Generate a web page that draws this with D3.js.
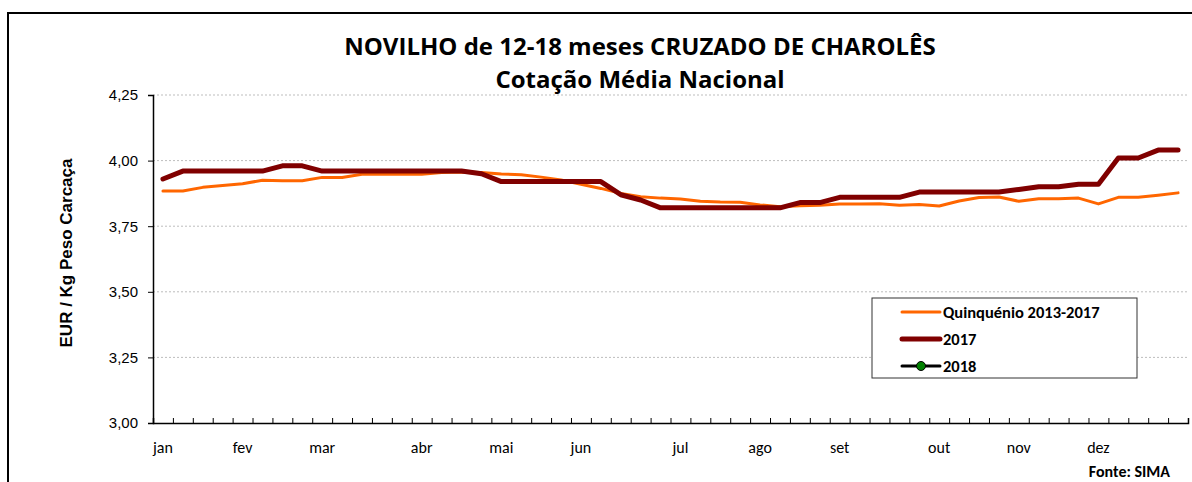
<!DOCTYPE html>
<html>
<head>
<meta charset="utf-8">
<script src="https://cdn.jsdelivr.net/npm/d3@7"></script>
<style>
  body { margin: 0; background: #fff; }
  svg { display: block; }
</style>
</head>
<body>
<svg width="1192" height="482"></svg>
<script>
// chart data, one value per week
const months = ["jan", "fev", "mar", "abr", "mai", "jun", "jul", "ago", "set", "out", "nov", "dez"];
const monthStartWeek = [0, 4, 8, 13, 17, 21, 26, 30, 34, 39, 43, 47];
const yTicks = [3.00, 3.25, 3.50, 3.75, 4.00, 4.25];

const quinquenio = [3.884, 3.884, 3.898, 3.905, 3.912, 3.925, 3.923, 3.923, 3.936, 3.936,
  3.948, 3.948, 3.948, 3.948, 3.955, 3.957, 3.955, 3.949, 3.946, 3.937,
  3.926, 3.910, 3.894, 3.875, 3.862, 3.857, 3.854, 3.845, 3.842, 3.841,
  3.831, 3.824, 3.828, 3.830, 3.835, 3.835, 3.836, 3.830, 3.833, 3.827,
  3.846, 3.859, 3.861, 3.845, 3.855, 3.855, 3.857, 3.835, 3.860, 3.860,
  3.868, 3.877];
const y2017 = [3.93, 3.96, 3.96, 3.96, 3.96, 3.96, 3.98, 3.98, 3.96, 3.96,
  3.96, 3.96, 3.96, 3.96, 3.96, 3.96, 3.95, 3.92, 3.92, 3.92,
  3.92, 3.92, 3.92, 3.87, 3.85, 3.82, 3.82, 3.82, 3.82, 3.82,
  3.82, 3.82, 3.84, 3.84, 3.86, 3.86, 3.86, 3.86, 3.88, 3.88,
  3.88, 3.88, 3.88, 3.89, 3.90, 3.90, 3.91, 3.91, 4.01, 4.01,
  4.04, 4.04];
const y2018 = []; // no values yet

const legendItems = ["Quinquénio 2013-2017", "2017", "2018"];

const svg = d3.select("svg");
const sansCal = "Carlito, Lato, 'Open Sans', sans-serif";
const sansArial = "'Liberation Sans', Arial, sans-serif";

// plot box
const plot = { left: 153, right: 1188, top: 95, bottom: 423 };
const nWeeks = y2017.length;

const x = d3.scaleBand().domain(d3.range(nWeeks)).range([plot.left, plot.right]);
const xEdge = d3.scaleLinear().domain([0, nWeeks]).range([plot.left, plot.right]);
const y = d3.scaleLinear().domain([3, 4.25]).range([plot.bottom, plot.top]);
const cx = i => x(i) + x.bandwidth() / 2;

// outer frame
svg.append("rect")
  .attr("x", 8).attr("y", 13).attr("width", 1200).attr("height", 500)
  .attr("fill", "none").attr("stroke", "#000").attr("stroke-width", 2);

// title
const titleFont = "'Open Sans', Lato, sans-serif";
svg.append("text").attr("x", 640).attr("y", 55).attr("text-anchor", "middle")
  .attr("font-family", titleFont).attr("font-weight", "bold").attr("font-size", "24px")
  .text("NOVILHO de 12-18 meses CRUZADO DE CHAROLÊS");
svg.append("text").attr("x", 640).attr("y", 88).attr("text-anchor", "middle")
  .attr("font-family", titleFont).attr("font-weight", "bold").attr("font-size", "24px")
  .text("Cotação Média Nacional");

// gridlines
svg.append("g").selectAll("line")
  .data(yTicks.filter(d => d > 3)).enter().append("line")
  .attr("x1", plot.left).attr("x2", plot.right)
  .attr("y1", d => y(d)).attr("y2", d => y(d))
  .attr("stroke", "#bdbdbd").attr("stroke-width", 1).attr("stroke-dasharray", "2,2");

// y axis
const yAxis = svg.append("g").attr("transform", `translate(${plot.left},0)`)
  .call(d3.axisLeft(y).tickValues(yTicks).tickSize(5).tickPadding(10)
    .tickFormat(d => d3.format(".2f")(d).replace(".", ",")));
yAxis.select(".domain").attr("stroke", "#000").attr("stroke-width", 1.5);
yAxis.selectAll("text").attr("font-family", sansArial).attr("font-size", "15px").attr("fill", "#000");

svg.append("text")
  .attr("transform", `translate(72,${(plot.top + plot.bottom) / 2 - 6}) rotate(-90)`)
  .attr("text-anchor", "middle")
  .attr("font-family", sansArial).attr("font-weight", "bold").attr("font-size", "17px")
  .text("EUR / Kg Peso Carcaça");

// x axis: tick marks between weeks
const xTicks = svg.append("g").attr("transform", `translate(0,${plot.bottom})`)
  .call(d3.axisBottom(xEdge).tickValues(d3.range(0, nWeeks + 1)).tickSize(-5).tickFormat(""));
xTicks.select(".domain").attr("stroke", "#000").attr("stroke-width", 1.5);
xTicks.selectAll(".tick line").attr("stroke", "#000");

// month labels
svg.append("g").selectAll("text")
  .data(months).enter().append("text")
  .attr("x", (d, i) => cx(monthStartWeek[i]))
  .attr("y", 453)
  .attr("text-anchor", "middle")
  .attr("font-family", sansCal).attr("font-size", "16px")
  .text(d => d);

// lines
const line = d3.line().x((d, i) => cx(i)).y(d => y(d));

svg.append("path").datum(quinquenio)
  .attr("d", line).attr("fill", "none")
  .attr("stroke", "#ff6600").attr("stroke-width", 3)
  .attr("stroke-linejoin", "round").attr("stroke-linecap", "round");

svg.append("path").datum(y2017)
  .attr("d", line).attr("fill", "none")
  .attr("stroke", "#800000").attr("stroke-width", 5)
  .attr("stroke-linejoin", "round").attr("stroke-linecap", "round");

if (y2018.length) {
  svg.append("path").datum(y2018).attr("d", line).attr("fill", "none")
    .attr("stroke", "#000").attr("stroke-width", 2);
}

// legend
const lg = svg.append("g").attr("transform", "translate(872,298)");
lg.append("rect").attr("width", 265).attr("height", 80)
  .attr("fill", "#fff").attr("stroke", "#333").attr("stroke-width", 1);

const rows = lg.selectAll("g.row").data(legendItems).enter().append("g")
  .attr("class", "row")
  .attr("transform", (d, i) => `translate(0,${14 + i * 27})`);

rows.append("line").attr("x1", 30).attr("x2", 68).attr("y1", 0).attr("y2", 0)
  .attr("stroke", (d, i) => ["#ff6600", "#800000", "#000"][i])
  .attr("stroke-width", (d, i) => [3, 5, 3][i])
  .attr("stroke-linecap", "round");
rows.filter((d, i) => i === 2).append("circle")
  .attr("cx", 49).attr("cy", 0).attr("r", 4.5)
  .attr("fill", "#008000").attr("stroke", "#000").attr("stroke-width", 1);
rows.append("text").attr("x", 71).attr("y", 6)
  .attr("font-family", sansCal).attr("font-weight", "bold").attr("font-size", "16.5px")
  .text(d => d);

// source
svg.append("text").attr("x", 1170).attr("y", 477).attr("text-anchor", "end")
  .attr("font-family", sansCal).attr("font-weight", "bold").attr("font-size", "16px")
  .text("Fonte: SIMA");
</script>
</body>
</html>
